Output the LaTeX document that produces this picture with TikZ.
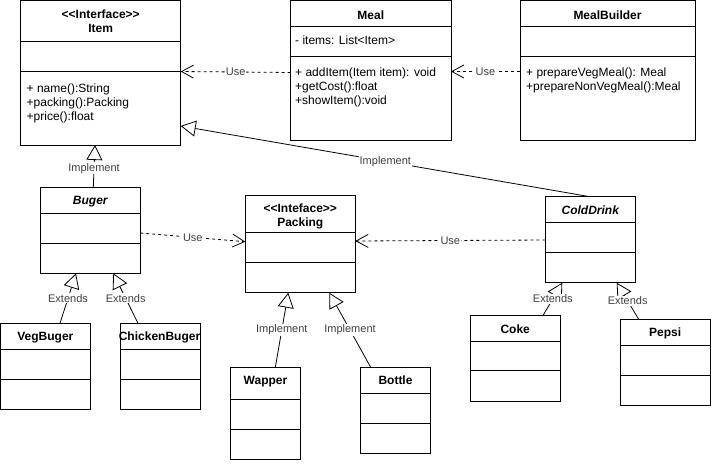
\documentclass[tikz,border=0pt]{standalone}
\usepackage{fontspec}
\setmainfont{Liberation Sans}
\usetikzlibrary{arrows.meta}

% \umlclass{name}{left}{top}{right}{bottom}{first divider}{second divider}
\newcommand\umlclass[7]{%
  \node[classbox, anchor=north west,
        minimum width={(#4)-(#2)}, minimum height={(#5)-(#3)}] (#1) at (#2,#3) {};
  \draw[line width=1pt] ([yshift={(#3)-(#6)}]#1.north west) -- ([yshift={(#3)-(#6)}]#1.north east);
  \draw[line width=1pt] ([yshift={(#3)-(#7)}]#1.north west) -- ([yshift={(#3)-(#7)}]#1.north east);
}

\begin{document}
\begin{tikzpicture}[x=1pt,y=-1pt,
  classbox/.style={draw=black, line width=1pt, inner sep=0pt, outer sep=0pt, fill=white},
  title/.style={font=\fontsize{12}{14}\selectfont\bfseries, align=center, inner sep=0pt},
  ititle/.style={font=\fontsize{12}{14}\selectfont\bfseries\itshape, inner sep=0pt},
  member/.style={font=\fontsize{12}{14}\selectfont, align=left, anchor=west, inner sep=0pt},
  lbl/.style={font=\fontsize{11}{13}\selectfont, text=black!75, fill=white, inner sep=1pt},
  uses/.style={draw, line width=0.8pt, dash pattern=on 3pt off 3pt,
               -{Straight Barb[length=12pt,width=13pt]}},
  realizes/.style={draw, line width=0.8pt, -{Triangle[open, length=15pt, width=16pt]}},
]
\fill[white] (0,0) rectangle (711,463);
\useasboundingbox (0,0) rectangle (711,463);

% class boxes
\umlclass{item}{20.7}{0.5}{180.7}{145}{41.7}{71.3}
\umlclass{meal}{290.7}{0.5}{451}{140}{26}{56}
\umlclass{builder}{520}{0.5}{695}{140}{26}{56}
\umlclass{buger}{40.3}{187.3}{140.3}{273.3}{213.3}{243.3}
\umlclass{packing}{245.3}{195.3}{355.3}{292.7}{232.3}{262.3}
\umlclass{colddrink}{545.3}{196.7}{635.3}{282.7}{222.3}{252.7}
\umlclass{vegbuger}{0.5}{323.3}{90.3}{409.3}{349.3}{379.3}
\umlclass{chicken}{120.3}{323.3}{200.7}{409.3}{349.3}{379.3}
\umlclass{wapper}{230.7}{367.3}{300.3}{459.3}{399.3}{429.3}
\umlclass{bottle}{360.7}{367.3}{430.3}{453.3}{393.3}{423.3}
\umlclass{coke}{470}{315}{560.3}{401}{341.3}{370.7}
\umlclass{pepsi}{620}{319.3}{710.2}{405.3}{345}{375.3}

% titles
\node[title] (itemT) at (100.7,21.5) {<{}<Interface>{}>\\Item};
\node[title] (mealT) at (370.8,15) {Meal};
\node[title] (builderT) at (607.5,15) {MealBuilder};
\node[ititle] (bugerT) at (90.3,201.3) {Buger};
\node[title] (packingT) at (300.3,216.5) {<{}<Inteface>{}>\\Packing};
\node[ititle] (colddrinkT) at (590.3,210.5) {ColdDrink};
\node[title] (vegbugerT) at (45.4,337.5) {VegBuger};
\node[title] (chickenT) at (159.5,337.5) {ChickenBuger};
\node[title] (wapperT) at (265.5,382) {Wapper};
\node[title] (bottleT) at (395.5,380.5) {Bottle};
\node[title] (cokeT) at (515.2,329) {Coke};
\node[title] (pepsiT) at (665.2,333.5) {Pepsi};

% members
\node[member] (itemM) at (26.5,103) {+ name():String\\+packing():Packing\\+price():float};
\node[member] (mealA) at (295,40.5) {- items: List<Item>};
\node[member] (mealM) at (295,87) {+ addItem(Item item): void\\+getCost():float\\+showItem():void};
\node[member] (builderM) at (526,80) {+ prepareVegMeal(): Meal\\+prepareNonVegMeal():Meal};

% dependencies
\draw[uses] ([yshift=-72]meal.north west) -- node[lbl] {Use} ([yshift=-71]item.north east);
\draw[uses] ([yshift=-71]builder.north west) -- node[lbl] {Use} ([yshift=-71]meal.north east);
\draw[uses] ([yshift=-45.7]buger.north east) -- node[lbl] {Use} ([yshift=-46.4]packing.north west);
\draw[uses] ([yshift=-43.3]colddrink.north west) -- node[lbl] {Use} ([yshift=-45.7]packing.north east);

% realizations
\draw[realizes] ([xshift=53]buger.north west) -- node[lbl, pos=0.45] {Implement} ([xshift=74.3]item.south west);
\draw[realizes] ([xshift=44.7]colddrink.north west) -- node[lbl] {Implement} ([yshift=19]item.south east);
\draw[realizes] ([xshift=44.6]wapper.north west) -- node[lbl] {Implement} ([xshift=43]packing.south west);
\draw[realizes] ([xshift=10]bottle.north west) -- node[lbl] {Implement} ([xshift=84]packing.south west);

% generalizations
\draw[realizes] ([xshift=59.5]vegbuger.north west) -- node[lbl] {Extends} ([xshift=35.7]buger.south west);
\draw[realizes] ([xshift=17.7]chicken.north west) -- node[lbl] {Extends} ([xshift=73]buger.south west);
\draw[realizes] ([xshift=73.3]coke.north west) -- node[lbl] {Extends} ([xshift=17]colddrink.south west);
\draw[realizes] ([xshift=18.7]pepsi.north west) -- node[lbl] {Extends} ([xshift=71.4]colddrink.south west);
\end{tikzpicture}
\end{document}
